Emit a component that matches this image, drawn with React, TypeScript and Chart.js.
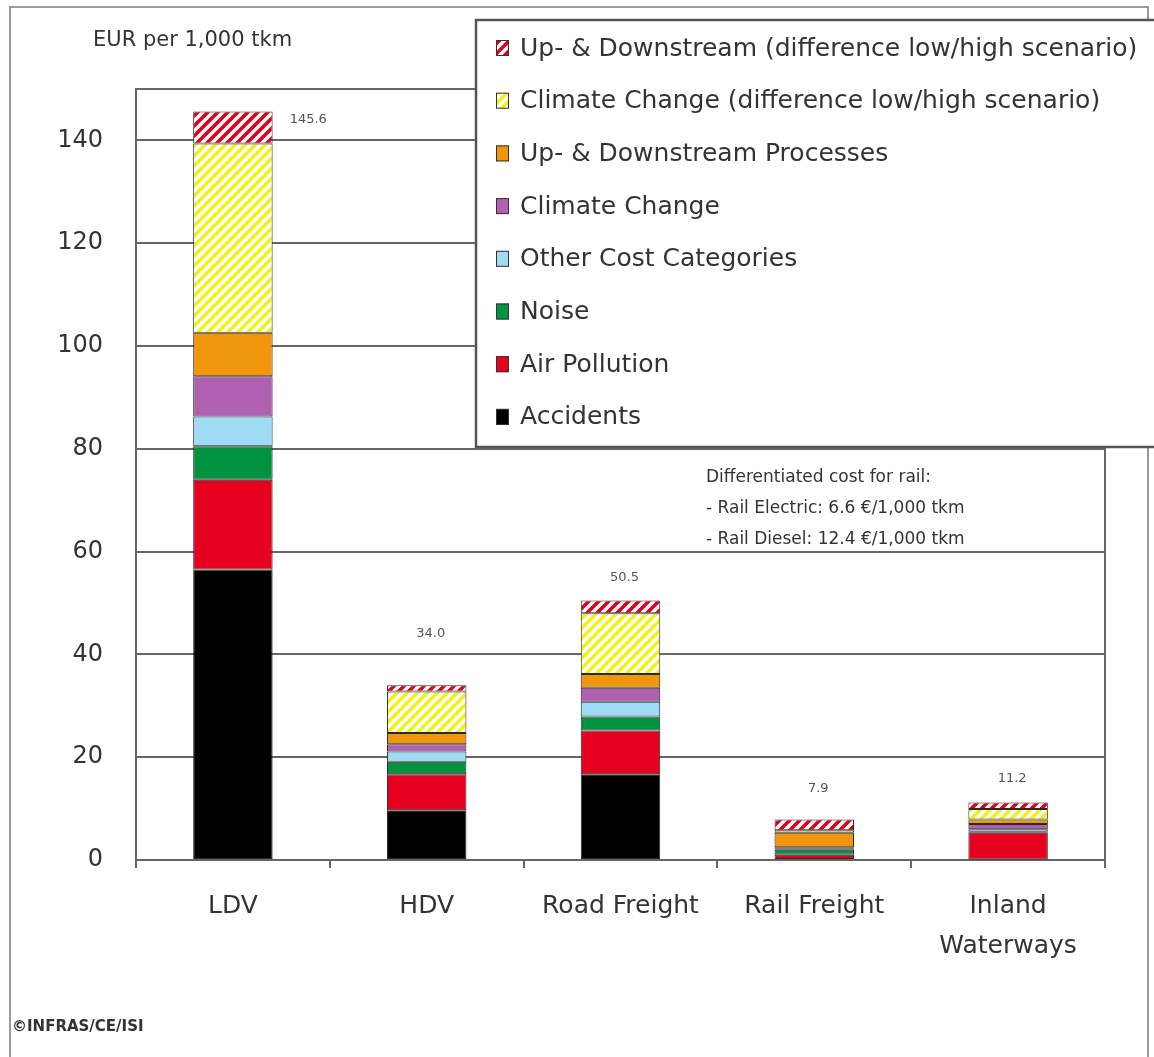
import React, { useEffect, useRef } from "react";
import { Chart, registerables } from "chart.js";

Chart.register(...registerables);

// ---------- data ----------
const categories: (string | string[])[] = ["LDV", "HDV", "Road Freight", "Rail Freight", ["Inland", "Waterways"]];

const accidents = [56.5, 9.7, 16.7, 0.2, 0.1];
const airPollution = [17.5, 7.0, 8.5, 0.8, 5.2];
const noise = [6.5, 2.4, 2.7, 1.0, 0.2];
const otherCosts = [5.8, 2.0, 2.9, 0.2, 0.5];
const climateChange = [7.8, 1.4, 2.7, 0.3, 1.0];
const upDownstream = [8.5, 2.2, 2.7, 2.8, 0.9];
const climateDiff = [36.8, 8.1, 11.8, 0.5, 2.0];
const upDownDiff = [6.2, 1.2, 2.5, 2.1, 1.3];

const seriesLabels = [
  "Accidents",
  "Air Pollution",
  "Noise",
  "Other Cost Categories",
  "Climate Change",
  "Up- & Downstream Processes",
  "Climate Change (difference low/high scenario)",
  "Up- & Downstream (difference low/high scenario)",
];

const yMin = 0;
const yMax = 150;
const yStep = 20;

const unitLabel = "EUR per 1,000 tkm";
const railNote = [
  "Differentiated cost for rail:",
  "- Rail Electric: 6.6 \u20AC/1,000 tkm",
  "- Rail Diesel: 12.4 \u20AC/1,000 tkm",
];
const sourceNote = "\u00A9INFRAS/CE/ISI";

// ---------- styling ----------
const FONT = "'DejaVu Sans', Verdana, sans-serif";
const TEXT = "#333333";
// gap (px) between bar top and its total label (0 = place to the right of the bar)
const totalLabelGap = [0, 52, 23, 31, 24];

function hatch(color: string, size = 10, width = 3.6): CanvasPattern | string {
  const c = document.createElement("canvas");
  c.width = size;
  c.height = size;
  const g = c.getContext("2d");
  if (!g) return color;
  g.fillStyle = "#ffffff";
  g.fillRect(0, 0, size, size);
  g.strokeStyle = color;
  g.lineWidth = width;
  g.lineCap = "square";
  const lines = [
    [0, size, size, 0],
    [-size / 2, size / 2, size / 2, -size / 2],
    [size / 2, size * 1.5, size * 1.5, size / 2],
  ];
  for (const [a, b, cc, d] of lines) {
    g.beginPath();
    g.moveTo(a, b);
    g.lineTo(cc, d);
    g.stroke();
  }
  const p = g.createPattern(c, "repeat");
  return p || color;
}

export default function App() {
  const ref = useRef<HTMLCanvasElement | null>(null);

  useEffect(() => {
    if (!ref.current) return;
    const colors: (string | CanvasPattern)[] = [
      "#000000",
      "#e4001e",
      "#00923f",
      "#9fdcf4",
      "#b060b0",
      "#f0960c",
      hatch("#f2f21a"),
      hatch("#d6001f"),
    ];
    const seriesData = [accidents, airPollution, noise, otherCosts, climateChange, upDownstream, climateDiff, upDownDiff];

    const plugin = {
      id: "decor",
      beforeDraw(chart: any) {
        const ctx = chart.ctx;
        ctx.save();
        ctx.fillStyle = "#ffffff";
        ctx.fillRect(0, 0, chart.width, chart.height);
        ctx.strokeStyle = "#9a9a9a";
        ctx.lineWidth = 2;
        ctx.strokeRect(10, 7, 1138, 1080);
        ctx.restore();
      },
      afterDraw(chart: any) {
        const ctx = chart.ctx;
        const area = chart.chartArea;
        const xs = chart.scales.x;
        const ys = chart.scales.y;
        ctx.save();
        // right frame line
        ctx.strokeStyle = "#666666";
        ctx.lineWidth = 2;
        ctx.beginPath();
        ctx.moveTo(area.right, area.top);
        ctx.lineTo(area.right, area.bottom);
        ctx.stroke();

        // totals
        const topMeta = chart.getDatasetMeta(seriesData.length - 1);
        ctx.font = `13px ${FONT}`;
        ctx.fillStyle = "#555555";
        ctx.textBaseline = "middle";
        categories.forEach((_, i) => {
          let total = 0;
          seriesData.forEach((s) => (total += s[i]));
          const x = xs.getPixelForValue(i);
          const y = ys.getPixelForValue(total);
          const label = total.toFixed(1);
          const gap = totalLabelGap[i];
          if (!gap) {
            const bar = topMeta.data[i] as any;
            ctx.textAlign = "left";
            ctx.fillText(label, x + bar.width / 2 + 17, y + 8);
          } else {
            ctx.textAlign = "center";
            ctx.fillText(label, x + 4, y - gap);
          }
        });

        // unit label
        ctx.font = `21px ${FONT}`;
        ctx.fillStyle = TEXT;
        ctx.textAlign = "left";
        ctx.fillText(unitLabel, 93, 41);

        // rail note
        ctx.font = `17px ${FONT}`;
        ctx.fillText(railNote[0], 706, 478);
        ctx.fillText(railNote[1], 706, 509);
        ctx.fillText(railNote[2], 706, 540);

        // source
        ctx.font = `bold 15px ${FONT}`;
        ctx.fillText(sourceNote, 12, 1027);

        // legend box
        ctx.fillStyle = "#ffffff";
        ctx.fillRect(476, 20, 700, 427);
        ctx.strokeStyle = "#555555";
        ctx.lineWidth = 2.5;
        ctx.strokeRect(476, 20, 700, 427);
        ctx.font = `25px ${FONT}`;
        const n = seriesData.length;
        for (let k = 0; k < n; k++) {
          const di = n - 1 - k;
          const cy = 48 + k * 52.7;
          ctx.fillStyle = colors[di] as any;
          ctx.fillRect(496, cy - 8, 13, 16);
          ctx.strokeStyle = "#333333";
          ctx.lineWidth = 1;
          ctx.strokeRect(496.5, cy - 7.5, 12, 15);
          ctx.fillStyle = TEXT;
          ctx.textAlign = "left";
          ctx.textBaseline = "middle";
          ctx.fillText(seriesLabels[di], 520, cy + 1);
        }
        ctx.restore();
      },
    };

    const chart = new Chart(ref.current, {
      type: "bar",
      data: {
        labels: categories as any,
        datasets: seriesData.map((d, i) => ({
          label: seriesLabels[i],
          data: d,
          backgroundColor: colors[i] as any,
          borderColor: "#2a2a2a",
          borderWidth: 1,
          borderSkipped: false,
          barPercentage: 0.41,
          categoryPercentage: 1,
        })),
      },
      options: {
        animation: false,
        responsive: false,
        layout: { padding: { left: 40, top: 89, right: 49, bottom: 0 } },
        plugins: {
          legend: { display: false },
          tooltip: { enabled: false },
          title: { display: false },
        },
        scales: {
          x: {
            stacked: true,
            afterFit: (s: any) => {
              s.height = 197;
            },
            grid: {
              drawOnChartArea: false,
              drawTicks: true,
              tickLength: 8,
              color: "#666666",
              lineWidth: 2,
              offset: true,
            },
            border: { display: true, color: "#666666", width: 2 },
            ticks: {
              color: TEXT,
              padding: 19,
              font: { family: FONT, size: 25, lineHeight: 1.58 },
              maxRotation: 0,
              autoSkip: false,
            },
          },
          y: {
            stacked: true,
            min: yMin,
            max: yMax,
            afterFit: (s: any) => {
              s.width = 96;
            },
            grid: {
              drawTicks: false,
              color: "#666666",
              lineWidth: 2,
            },
            border: { display: true, color: "#666666", width: 2 },
            ticks: {
              stepSize: yStep,
              padding: 33,
              color: TEXT,
              font: { family: FONT, size: 24 },
              callback: (v: any) => (Number(v) % yStep === 0 ? String(v) : ""),
            },
          },
        },
      },
      plugins: [plugin],
    });
    return () => chart.destroy();
  }, []);

  return (
    <div style={{ position: "fixed", left: 0, top: 0, width: 1154, height: 1057, background: "#fff" }}>
      <canvas ref={ref} width={1154} height={1057} style={{ display: "block" }} />
    </div>
  );
}
